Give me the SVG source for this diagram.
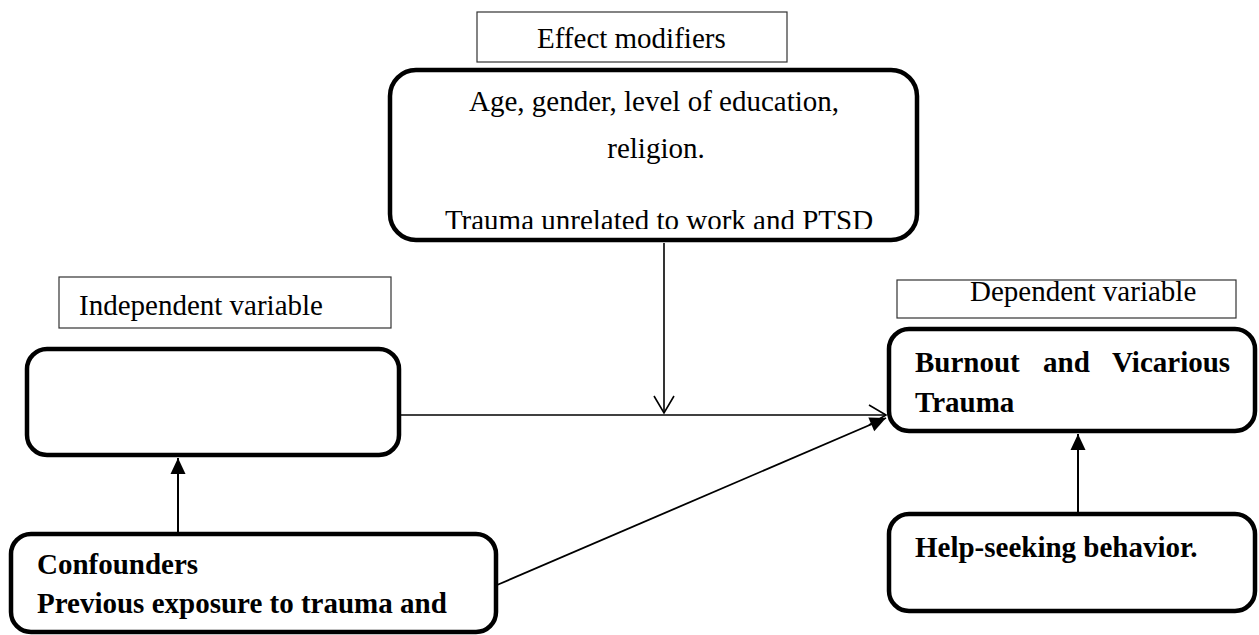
<svg xmlns="http://www.w3.org/2000/svg" width="1259" height="635" viewBox="0 0 1259 635">
<style>
.lbl{fill:#fff;stroke:#333;stroke-width:1.2}
.node{fill:#fff;stroke:#000;stroke-width:4.5}
.t{font-family:"Liberation Serif","Times New Roman",serif;font-size:29px;fill:#000}
.b{font-weight:bold}
.c{fill:none;stroke:#000}
</style>
<defs>
<marker id="open" markerUnits="userSpaceOnUse" markerWidth="24" markerHeight="24" viewBox="-20 -12 24 24" refX="0" refY="0" orient="auto">
<path d="M-17,-10 L0,0 L-17,10" fill="none" stroke="#000" stroke-width="1.6"/>
</marker>
<marker id="fill" markerUnits="userSpaceOnUse" markerWidth="20" markerHeight="20" viewBox="-18 -10 20 20" refX="0" refY="0" orient="auto">
<path d="M-16,-7.5 L0,0 L-16,7.5 Z" fill="#000"/>
</marker>
<clipPath id="clipTop"><rect x="390" y="68" width="527" height="161"/></clipPath>
</defs>

<g id="connectors">
<line class="c" x1="664" y1="243" x2="664" y2="413" stroke-width="1.6" marker-end="url(#open)"/>
<line class="c" x1="400" y1="415" x2="886" y2="415" stroke-width="1.6" marker-end="url(#open)"/>
<line class="c" x1="497" y1="585" x2="886" y2="418" stroke-width="1.8" marker-end="url(#fill)"/>
<line class="c" x1="178" y1="532" x2="178" y2="458" stroke-width="2" marker-end="url(#fill)"/>
<line class="c" x1="1078" y1="512" x2="1078" y2="434" stroke-width="2" marker-end="url(#fill)"/>
</g>

<g id="effect-label">
<rect class="lbl" x="477" y="12" width="310" height="50"/>
<text class="t" x="537" y="48">Effect modifiers</text>
</g>

<g id="effect-modifiers">
<rect class="node" x="390" y="70" width="527" height="170" rx="26"/>
<g clip-path="url(#clipTop)">
<text class="t" x="654" y="111" text-anchor="middle">Age, gender, level of education,</text>
<text class="t" x="656" y="158" text-anchor="middle">religion.</text>
<text class="t" x="659" y="230" text-anchor="middle">Trauma unrelated to work and PTSD</text>
</g>
</g>

<g id="independent-label">
<rect class="lbl" x="59" y="277" width="332" height="51"/>
<text class="t" x="79" y="315">Independent variable</text>
</g>

<g id="independent">
<rect class="node" x="27" y="349" width="372" height="106" rx="20"/>
</g>

<g id="dependent-label">
<rect class="lbl" x="897" y="280" width="339" height="38"/>
<text class="t" x="970" y="301">Dependent variable</text>
</g>

<g id="dependent">
<rect class="node" x="889" y="329" width="366" height="102" rx="20"/>
<text class="t b"><tspan x="915" y="372">Burnout</tspan><tspan x="1043" y="372">and</tspan><tspan x="1112" y="372">Vicarious</tspan><tspan x="915" y="412">Trauma</tspan></text>
</g>

<g id="help-seeking">
<rect class="node" x="889" y="514" width="366" height="97" rx="20"/>
<text class="t b" x="915" y="557">Help-seeking behavior.</text>
</g>

<g id="confounders">
<rect class="node" x="11" y="534" width="485" height="98" rx="20"/>
<text class="t b" x="37" y="574">Confounders</text>
<text class="t b" x="37" y="613">Previous exposure to trauma and</text>
</g>
</svg>
